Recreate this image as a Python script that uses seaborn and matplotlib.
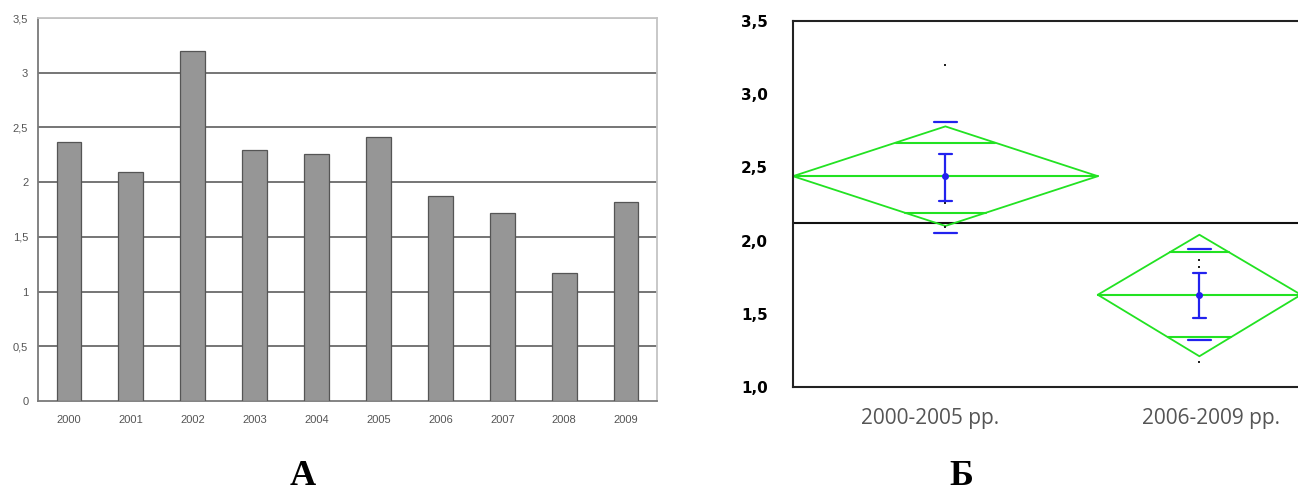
import numpy as np
import pandas as pd
import matplotlib
matplotlib.use("Agg")
import matplotlib.pyplot as plt
import matplotlib.transforms as mtrans
import seaborn as sns

# --- data ---
years = ['2000', '2001', '2002', '2003', '2004', '2005', '2006', '2007', '2008', '2009']
values = [2.37, 2.09, 3.20, 2.29, 2.26, 2.41, 1.87, 1.72, 1.17, 1.82]

periods = ['2000-2005 рр.', '2006-2009 рр.']
period_sizes = [6, 4]
group_means = [2.44, 1.63]
ci_low = [2.10, 1.21]
ci_high = [2.78, 2.04]
overlap_low = [2.19, 1.34]
overlap_high = [2.67, 1.92]
se_low = [2.27, 1.47]
se_high = [2.59, 1.78]
sd_low = [2.05, 1.32]
sd_high = [2.81, 1.94]
grand_mean = 2.12

left_ticks = [0, 0.5, 1, 1.5, 2, 2.5, 3, 3.5]
right_ticks = [1.0, 1.5, 2.0, 2.5, 3.0, 3.5]

sns.set_style("white")
plt.rcParams['font.family'] = ['DejaVu Sans']

fig = plt.figure(figsize=(12.98, 4.9), dpi=100)

# ---------------- А: bar chart ----------------
ax1 = fig.add_axes([38 / 1298, 1 - 401 / 490, 619 / 1298, 383 / 490])
sns.barplot(x=years, y=values, color='#969696', saturation=1, width=0.4,
            edgecolor='#555555', linewidth=0.9, ax=ax1, zorder=3)
ax1.set_ylim(0, 3.5)
ax1.set_xlim(-0.5, len(years) - 0.5)
for t in left_ticks[1:-1]:
    ax1.axhline(t, color='#6a6a6a', lw=1.3, zorder=1)
ax1.axhline(3.5, color='#bdbdbd', lw=1.3, zorder=1)
ax1.set_yticks(left_ticks)
ax1.set_yticklabels([('%g' % t).replace('.', ',') for t in left_ticks])
ax1.set_xticks(range(len(years)))
ax1.set_xticklabels(years)
ax1.set_xticks(np.arange(len(years) + 1) - 0.5, minor=True)
ax1.tick_params(axis='x', which='major', length=0, pad=10, labelsize=8, labelcolor='#555555')
ax1.tick_params(axis='x', which='minor', length=4, width=1, color='#777777', direction='out')
ax1.tick_params(axis='y', length=5, width=1, color='#777777', direction='out', pad=2,
                labelsize=8, labelcolor='#555555')
for lab in ax1.get_xticklabels() + ax1.get_yticklabels():
    lab.set_family(['Liberation Sans Narrow', 'Liberation Sans', 'DejaVu Sans'])
for side in ['left', 'bottom']:
    ax1.spines[side].set_color('#7a7a7a')
    ax1.spines[side].set_linewidth(1.3)
for side in ['top', 'right']:
    ax1.spines[side].set_color('#c4c4c4')
    ax1.spines[side].set_linewidth(1.3)
ax1.set_xlabel('')
ax1.set_ylabel('')

# ---------------- Б: means diamonds ----------------
ax2 = fig.add_axes([793 / 1298, 1 - 387 / 490, 505 / 1298, 366 / 490])
edges = np.concatenate([[0], np.cumsum(period_sizes)])
centers = (edges[:-1] + edges[1:]) / 2
df = pd.DataFrame({'value': values,
                   'period': np.repeat(periods, period_sizes)})
df['pos'] = df['period'].map(dict(zip(periods, centers)))

green = '#22e222'
blue = '#2222ee'
ax2.axhline(grand_mean, color='#111111', lw=1.5, zorder=1)
for i in range(len(periods)):
    x0, x1, xc = edges[i], edges[i + 1], centers[i]
    m = group_means[i]
    ax2.plot([x0, xc, x1, xc, x0], [m, ci_high[i], m, ci_low[i], m], color=green, lw=1.3, zorder=2)
    ax2.plot([x0, x1], [m, m], color=green, lw=1.5, zorder=2)
    half = (x1 - x0) / 2
    for y, tip in [(overlap_high[i], ci_high[i]), (overlap_low[i], ci_low[i])]:
        w = half * (tip - y) / (tip - m)
        ax2.plot([xc - w, xc + w], [y, y], color=green, lw=1.5, zorder=2)
    ax2.plot([xc, xc], [se_low[i], se_high[i]], color=blue, lw=1.6, zorder=4)
    for y in (se_low[i], se_high[i]):
        ax2.plot([xc - 0.13, xc + 0.13], [y, y], color=blue, lw=1.6, zorder=4)
    for y in (sd_low[i], sd_high[i]):
        ax2.plot([xc - 0.22, xc + 0.22], [y, y], color=blue, lw=1.6, zorder=4)
    ax2.plot([xc], [m], 'o', color=blue, ms=4, zorder=5)

sns.scatterplot(data=df, x='pos', y='value', color='#222222', s=3, marker='s',
                linewidth=0, ax=ax2, zorder=3, legend=False)

ax2.set_xlim(0, 505 / 50.8)
ax2.set_ylim(1.0, 3.5)
ax2.set_yticks(right_ticks)
ax2.set_yticklabels([('%.1f' % t).replace('.', ',') for t in right_ticks],
                    fontweight='heavy', fontsize=11)
ax2.tick_params(axis='y', length=10, width=1.3, color='#222222', direction='out', pad=8,
                labelcolor='black')
ax2.set_xticks(centers)
ax2.set_xticklabels(periods)
ax2.set_xticks(edges[1:-1], minor=True)
ax2.tick_params(axis='x', which='major', length=0, pad=15, labelsize=15, labelcolor='#555555')
ax2.tick_params(axis='x', which='minor', length=6, width=1.3, color='#222222', direction='out')
for lab, dx in zip(ax2.get_xticklabels(), [-15, 12]):
    lab.set_family(['Open Sans', 'DejaVu Sans'])
    lab.set_transform(lab.get_transform() + mtrans.ScaledTranslation(dx / 100, 0, fig.dpi_scale_trans))
for side in ['left', 'bottom', 'top']:
    ax2.spines[side].set_color('#222222')
    ax2.spines[side].set_linewidth(1.5)
ax2.spines['right'].set_visible(False)
ax2.set_xlabel('')
ax2.set_ylabel('')

# panel letters
fig.text(303 / 1298, 1 - 476 / 490, 'А', ha='center', va='center', fontsize=26,
         fontweight='bold', color='black', family=['Liberation Serif', 'DejaVu Serif'])
fig.text(961 / 1298, 1 - 476 / 490, 'Б', ha='center', va='center', fontsize=26,
         fontweight='bold', color='black', family=['Liberation Serif', 'DejaVu Serif'])

fig.savefig('out.png', dpi=100)
